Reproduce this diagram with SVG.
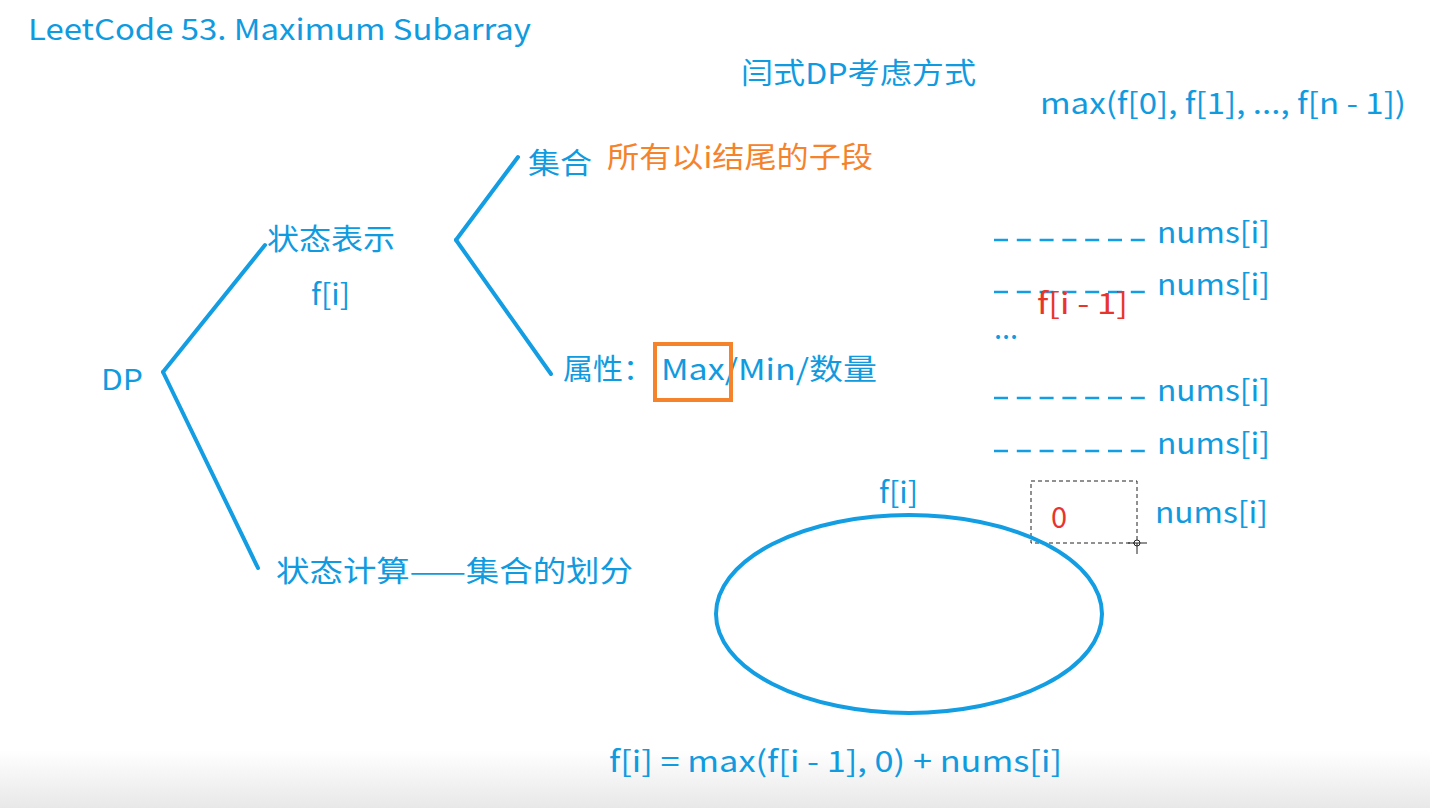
<svg xmlns="http://www.w3.org/2000/svg" width="1430" height="808" viewBox="0 0 1430 808">
<defs>
<linearGradient id="bg" x1="0" y1="0" x2="0" y2="1">
<stop offset="0" stop-color="#ffffff"/>
<stop offset="1" stop-color="#e8e8e8"/>
</linearGradient>
<style>
text{font-family:"Noto Sans CJK SC","Noto Sans",sans-serif;font-size:29px;fill:#109be0}
.o{fill:#f5832b}
.r{fill:#e8352c}
.ln{stroke:#139de2;stroke-width:4;fill:none;stroke-linecap:round}
.dl{stroke:#139de2;stroke-width:2.5;stroke-dasharray:14 8.8;fill:none}
</style>
</defs>
<rect width="1430" height="808" fill="#ffffff"/>
<rect x="0" y="750" width="1430" height="58" fill="url(#bg)"/>
<g id="title"><text x="28" y="40" textLength="503" lengthAdjust="spacingAndGlyphs">LeetCode 53. Maximum Subarray</text></g>
<g id="yan"><text x="741" y="84" textLength="235" lengthAdjust="spacingAndGlyphs">闫式DP考虑方式</text></g>
<g id="maxall"><text x="1040" y="114" textLength="366" lengthAdjust="spacingAndGlyphs">max(f[0], f[1], ..., f[n - 1])</text></g>
<g id="dp"><text x="101" y="390" textLength="42" lengthAdjust="spacingAndGlyphs">DP</text></g>
<g id="state"><text x="267" y="250" textLength="128" lengthAdjust="spacingAndGlyphs">状态表示</text>
<text x="311" y="305" textLength="39" lengthAdjust="spacingAndGlyphs">f[i]</text></g>
<g id="set"><text x="528" y="174" textLength="64" lengthAdjust="spacingAndGlyphs">集合</text>
<text class="o" x="607" y="168" textLength="266" lengthAdjust="spacingAndGlyphs">所有以i结尾的子段</text></g>
<g id="attr"><text x="563" y="380" textLength="90" lengthAdjust="spacingAndGlyphs">属性：</text>
<text x="661" y="380" textLength="216" lengthAdjust="spacingAndGlyphs">Max/Min/数量</text>
<rect x="655" y="344" width="76" height="56" fill="none" stroke="#f5832b" stroke-width="4"/></g>
<g id="calc"><text x="276" y="582" textLength="357" lengthAdjust="spacingAndGlyphs">状态计算——集合的划分</text></g>
<g id="connectors">
<line class="ln" x1="163" y1="372" x2="265" y2="245"/>
<line class="ln" x1="163" y1="372" x2="258" y2="568"/>
<line class="ln" x1="456" y1="240" x2="518" y2="157"/>
<line class="ln" x1="456" y1="240" x2="551" y2="374"/>
</g>
<g id="rows">
<line class="dl" x1="994" y1="240" x2="1146" y2="240"/>
<line class="dl" x1="994" y1="292" x2="1146" y2="292"/>
<line class="dl" x1="994" y1="398" x2="1146" y2="398"/>
<line class="dl" x1="994" y1="451" x2="1146" y2="451"/>
<text x="1157" y="243" textLength="113" lengthAdjust="spacingAndGlyphs">nums[i]</text>
<text x="1157" y="295" textLength="113" lengthAdjust="spacingAndGlyphs">nums[i]</text>
<text x="1157" y="401" textLength="113" lengthAdjust="spacingAndGlyphs">nums[i]</text>
<text x="1157" y="454" textLength="113" lengthAdjust="spacingAndGlyphs">nums[i]</text>
<text x="1155" y="523" textLength="113" lengthAdjust="spacingAndGlyphs">nums[i]</text>
<text class="r" x="1037" y="314" textLength="91" lengthAdjust="spacingAndGlyphs">f[i - 1]</text>
<text x="994" y="339" font-size="22">...</text>
</g>
<g id="zero">
<rect x="1031" y="481" width="106" height="62" fill="none" stroke="#222" stroke-width="1" stroke-dasharray="4 3"/>
<circle cx="1137" cy="543" r="3" fill="#fff" stroke="#222" stroke-width="1"/>
<line x1="1128" y1="543" x2="1147" y2="543" stroke="#222" stroke-width="1"/>
<line x1="1137" y1="543" x2="1137" y2="554" stroke="#222" stroke-width="1"/>
<text class="r" x="1051" y="528" font-size="32">0</text>
</g>
<g id="set-ellipse">
<text x="879" y="503" textLength="39" lengthAdjust="spacingAndGlyphs">f[i]</text>
<ellipse class="ln" cx="909" cy="614" rx="193" ry="99" stroke-width="5"/>
</g>
<g id="formula"><text x="609" y="772" textLength="453" lengthAdjust="spacingAndGlyphs">f[i] = max(f[i - 1], 0) + nums[i]</text></g>
</svg>
